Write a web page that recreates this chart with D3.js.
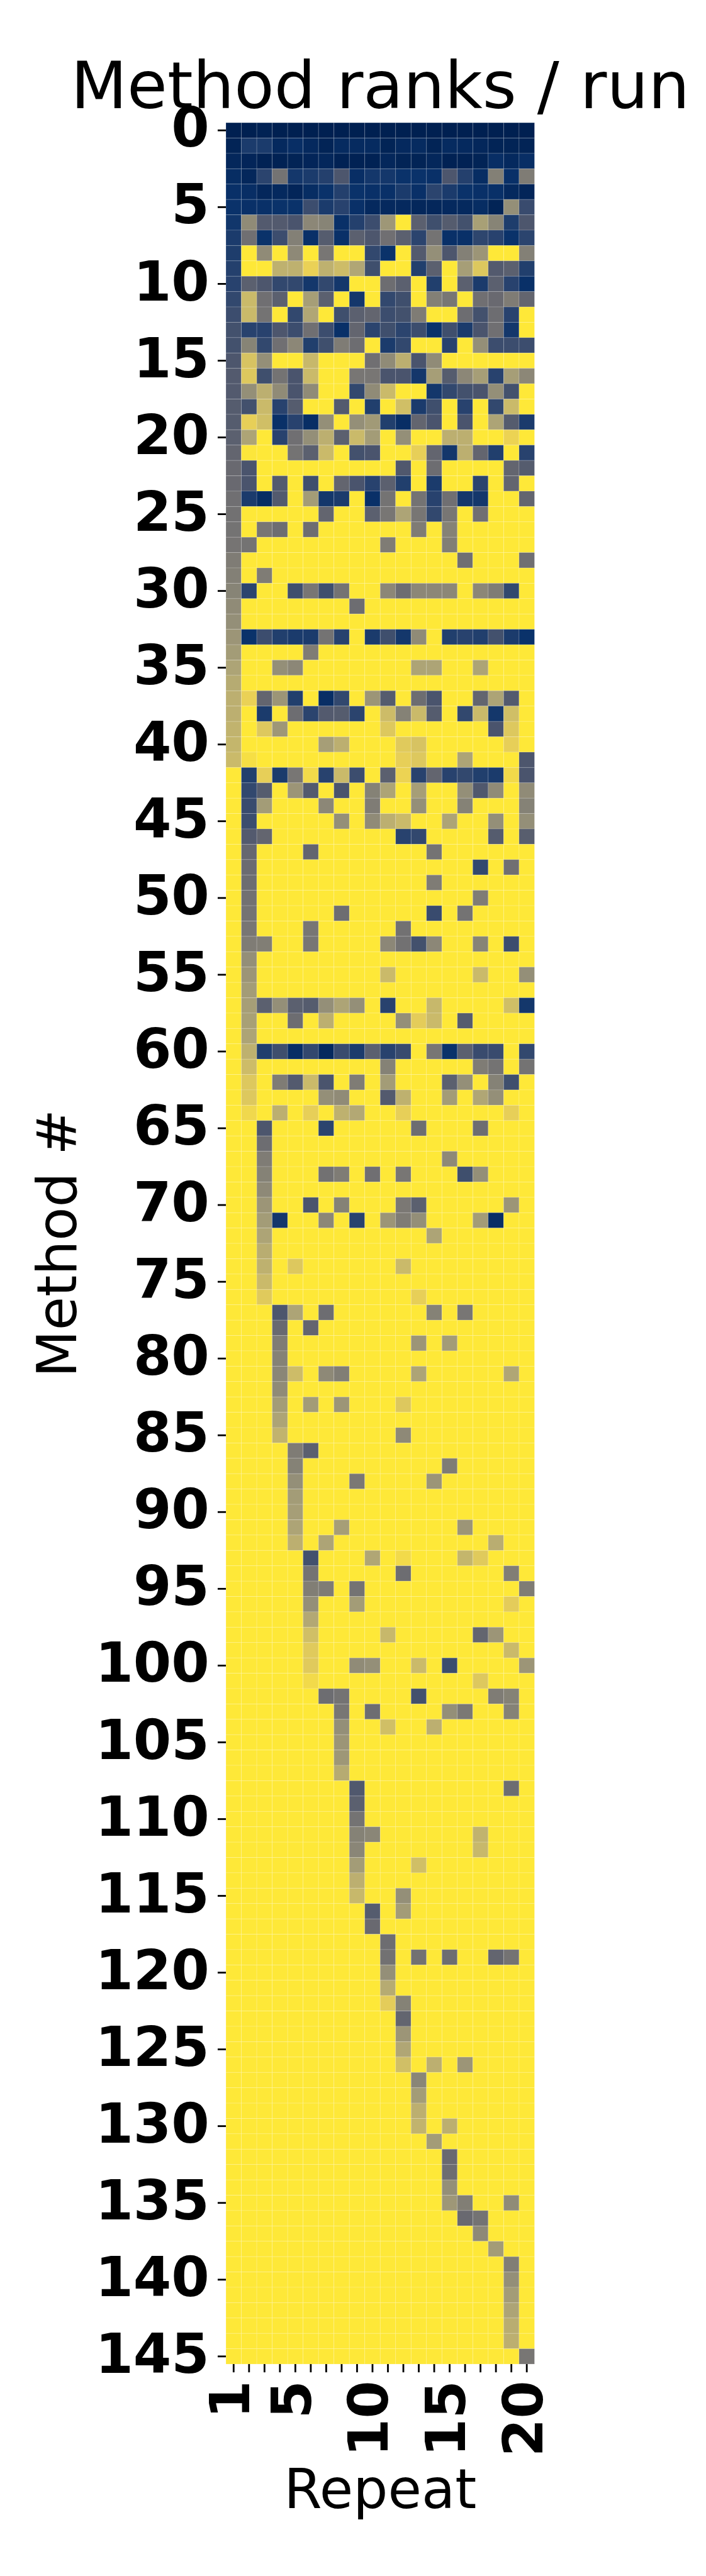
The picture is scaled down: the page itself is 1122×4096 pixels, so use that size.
<!DOCTYPE html>
<html>
<head>
<meta charset="utf-8">
<script src="https://cdn.jsdelivr.net/npm/d3@7"></script>
<style>
  html, body { margin: 0; padding: 0; background: #ffffff; }
  svg { display: block; }
</style>
</head>
<body>
<div id="chart"></div>
<script>
// ---------------- text ----------------
const chartTitle = "Method ranks / run";
const xAxisTitle = "Repeat";
const yAxisTitle = "Method #";

// ---------------- categories / ticks ----------------
const repeats = [1,2,3,4,5,6,7,8,9,10,11,12,13,14,15,16,17,18,19,20];
const xTickLabels = [1,5,10,15,20];
const yTickLabels = [0,5,10,15,20,25,30,35,40,45,50,55,60,65,70,75,80,85,90,95,100,105,110,115,120,125,130,135,140,145];

// ---------------- values (rank level per run, 0 = best, 10 = clipped/worst) ----------------
const ranksMethods0to41 = [
[0,0,0.1,0,0,0,0,0,0,0,0,0,0,0,0,0,0,0,0,0],
[0.2,1.5,1.5,0.5,0.8,0.5,0.2,0.6,0.6,0.6,0.2,0.5,0.6,0.2,0.6,0.5,0.4,0.2,0.2,0.2],
[0.4,0.3,0.1,0.1,0.2,0.3,0.4,0.1,0.1,0.1,0.4,0.2,0.2,0.4,0.1,0.1,0.2,0.8,0.5,0.8],
[0.7,0.4,2,4.5,1.3,1.5,1.8,3,0.8,1.3,1.3,1,1,0.9,3,1.8,0.7,5.2,0.9,5],
[0.9,0.8,0.4,0.5,0.3,0.7,1,1.8,1,0.9,0.9,1.5,0.9,2,1.5,1,0.9,0.9,0.5,0.3],
[1,0.9,0.9,1,1,2.5,1.5,1.9,0.9,0.5,0.5,0.5,0.4,0.4,0.5,0.5,0.7,0.2,6,2.4],
[1.2,5.8,3.2,3.2,2.9,5.6,5.4,0.9,1.8,2.5,6.4,10,3.5,2.6,3.3,2.7,6.8,5.4,1.6,3],
[1.5,4.3,1,2.5,5.2,0.9,3.3,0.9,3.5,3,4.3,3.5,2,4.5,0.9,0.9,2.1,1.9,1,2],
[1.6,10,5.8,10,5.7,10,4.7,10,10,2.2,1,10,3.2,6,3,5.2,6.3,10,10,5.2],
[1.8,10,10,7.6,7.6,9,7.6,8.1,7.1,2.6,10,10,1.7,3.5,10,6.7,8.6,3.2,3.5,1.7],
[1.9,3.5,3,2.2,2.2,1.3,2.2,1.3,10,10,4.2,3.5,10,1.7,10,3.5,1.5,3.5,1.9,0.9],
[2.2,8,4.3,3.5,10,6.7,3.5,10,1.3,10,2.2,2.6,10,5.2,4.7,10,4.3,4,5,3.8],
[2.5,8,4.5,10,2.2,7.1,10,2.6,3.5,3.8,2.5,2.7,5,10,10,4.2,2.7,4.2,1.9,10],
[2.7,1.9,1.9,3,2.5,4.3,2.5,0.9,3.8,2,2.6,2,2.5,1,2.6,1.5,2.9,4.3,1.3,10],
[2.7,5.4,2.2,4.3,5.6,1.7,2.6,5,4.2,10,1.5,2.2,10,10,1.9,10,6,2.5,2.5,2.5],
[3,8.4,6,10,10,7.9,10,10,10,4.3,5.8,7.5,2.9,5.8,10,10,10,10,10,10],
[3.2,8.6,2.6,4.5,2.9,8,10,10,4.7,4.7,2.9,2.9,1.3,6.7,3.3,5.6,6.7,1.9,6.7,5.6],
[3.2,6,7.5,5.8,2.9,5.8,10,10,2.2,5.8,8,10,10,1.3,2.2,2.7,2.9,6,2.7,10],
[3.3,2.7,8,1.9,3.3,10,10,3.2,10,1.7,10,8.2,1.5,2.6,10,1.9,10,2.2,8,10],
[3.3,8.9,8.2,0.9,1.9,0.8,6,10,6,6.5,1.7,0.8,3.8,2.9,10,2.9,10,7,3.3,1.5],
[3.5,7,10,1.9,4.3,6,7.5,3.5,8,6.6,10,6,10,10,7.5,7.5,10,10,9.1,10],
[3.8,9.9,10,10,4.5,3.5,8,10,2.7,2.9,10,10,8.9,3.8,1.3,7.5,3.8,1.7,10,1.9],
[4,2.9,10,10,10,10,10,10,10,10,10,3.1,10,4.2,10,10,10,10,3.8,3.3],
[4,2.9,10,3.2,10,2.6,10,3.8,2.9,1.9,3.5,1.7,10,1.5,10,10,2,10,3.8,10],
[4.3,1.5,0.7,3.2,10,6.6,1.3,1.5,10,0.9,4.5,10,4.5,1.9,4.3,1.3,1.3,10,10,3.8],
[4.4,10,10,10,10,10,3.8,10,10,3.5,4.7,7,4.7,2.2,4.7,10,4.3,10,10,10],
[4.5,10,4.7,4.2,10,4.2,10,10,10,10,10,10,5,10,5.3,10,10,10,10,10],
[4.6,4.5,10,10,10,10,10,10,10,10,5,10,10,10,5.1,10,10,10,10,10],
[5,10,10,10,10,10,10,10,10,10,10,10,10,10,10,4.3,10,10,10,4.3],
[5.2,10,5,10,10,10,10,10,10,10,10,10,10,10,10,10,10,10,10,10],
[5.4,2,10,10,2.6,4.7,2.6,4.5,10,10,5.6,4.2,5.6,5.6,5.6,10,5.6,5,2.2,10],
[5.8,10,10,10,10,10,10,10,4.2,10,10,10,10,10,10,10,10,10,10,10],
[6,10,10,10,10,10,10,10,10,10,10,10,10,10,10,10,10,10,10,10],
[6.3,1,2.5,1.7,1.5,1.5,4.5,1.9,10,1.5,2.6,1.3,5.8,10,1.7,1.9,1.7,2.7,1.5,1],
[6.6,10,10,10,10,5,10,10,10,10,10,10,10,10,10,10,10,10,10,10],
[7,10,10,6,5.6,10,10,10,10,10,10,10,7,7,10,10,7,10,10,10],
[7.3,10,10,10,10,10,10,10,10,10,10,10,10,10,10,10,10,10,10,10],
[7.5,9,3.8,6.3,1.7,10,0.8,2.2,10,6.3,3.3,10,4.2,2.9,10,10,3.8,7,3.2,10],
[7.5,10,1.5,10,4.2,2,3.2,3.3,2,10,8.1,5.3,8,3.3,10,2.2,8,1.3,8.2,10],
[7.7,10,8.6,6.4,10,10,10,10,10,10,8.6,10,10,10,10,10,10,2.9,8.6,10],
[7.8,10,10,10,10,10,6.7,7.5,10,10,10,8.7,8.4,10,10,10,10,10,8.9,10],
[8,9.6,10,10,10,10,10,10,10,10,10,8.9,8.6,10,10,7,10,10,10,3]
];

const ranksMethods42to76 = [
[10,1.7,8.9,1.5,4.7,9.4,1.9,8,2.5,10,3.5,9.1,1.9,3.8,1.9,2.2,1.7,1.5,9.4,2.9],
[10,2.2,3.3,10,6.3,3.2,10,2.9,10,5.3,7,10,6.7,10,10,6,3.1,5.8,10,5.8],
[10,2.4,6.6,10,10,10,5.6,10,10,5,10,10,6,10,10,5.3,10,10,10,5.3],
[10,2.5,10,10,10,10,10,6,10,5.8,7.5,8,10,10,7,10,10,6,10,6],
[10,3.2,3.8,10,10,10,10,10,10,10,10,1.9,2.2,10,10,10,10,3.3,10,3.4],
[10,3.9,10,10,10,3.8,10,10,10,10,10,10,10,4.5,10,10,10,10,10,10],
[10,4.1,10,10,10,10,10,10,10,10,10,10,10,10,10,10,2.2,10,4.3,10],
[10,4.2,10,10,10,10,10,10,10,10,10,10,10,5,10,10,10,10,10,10],
[10,4.4,10,10,10,10,10,10,10,10,10,10,10,10,10,10,5,10,10,10],
[10,4.5,10,10,10,10,10,4.2,10,10,10,10,10,2.4,10,4.5,10,10,10,10],
[10,4.7,10,10,10,4.7,10,10,10,10,10,4.4,10,10,10,10,10,10,10,10],
[10,5,5.1,10,10,4.7,10,10,10,10,5.6,4.4,2.7,5.6,10,10,5.4,10,2.5,10],
[10,6,10,10,10,10,10,10,10,10,10,10,10,10,10,10,10,10,10,10],
[10,6.3,10,10,10,10,10,10,10,10,8,10,10,10,10,10,8,10,10,6],
[10,6.6,10,10,10,10,10,10,10,10,10,10,10,10,10,10,10,10,10,10],
[10,6.7,3.5,6,3.5,3.3,6,7,6,10,1.9,10,10,7.9,10,10,10,10,8.2,1.3],
[10,6.8,10,10,4.2,10,7.5,10,10,10,10,6,8.8,8,10,3.3,10,10,10,10],
[10,7,10,10,10,10,10,10,10,10,10,10,10,10,10,10,10,10,10,10],
[10,7.6,1.7,2.6,0.8,2.2,0.5,2.4,1.5,3.5,1.9,2.4,10,4.7,1,3.5,2.4,2.4,10,2.2],
[10,8.1,10,10,10,10,10,10,10,10,5.3,10,10,10,10,10,5,4.5,10,4.5],
[10,8.6,10,5,3.2,8,2.9,10,5,10,6.6,10,10,10,3.5,6,10,5.3,2.6,10],
[10,8.6,10,10,10,10,6,5.8,10,10,3.2,7.6,10,10,6.6,10,7.1,6,10,10],
[10,9.3,10,7.5,10,8.9,10,7.6,7.2,10,10,8.9,10,10,10,10,10,10,8.9,10],
[10,10,3,10,10,10,2,10,10,10,10,10,4.2,10,10,10,4.2,10,10,10],
[10,10,4.2,10,10,10,10,10,10,10,10,10,10,10,10,10,10,10,10,10],
[10,10,5,10,10,10,10,10,10,10,10,10,10,10,5.7,10,10,10,10,10],
[10,10,5.3,10,10,10,4.4,5,10,4.3,10,4.7,10,10,10,2.6,6,10,10,10],
[10,10,5.7,10,10,10,10,10,10,10,10,10,10,10,10,10,10,10,10,10],
[10,10,6.3,10,10,2.9,10,5.3,10,10,10,4.8,3.5,10,10,10,10,10,6.3,10],
[10,10,6.6,1.3,10,10,5.6,10,1.9,10,6.3,5,6,10,10,10,6.6,0.8,10,10],
[10,10,7,10,10,10,10,10,10,10,10,10,10,7,10,10,10,10,10,10],
[10,10,7.4,10,10,10,10,10,10,10,10,10,10,10,10,10,10,10,10,10],
[10,10,7.6,10,8.6,10,10,10,10,10,10,8,10,10,10,10,10,10,10,10],
[10,10,8,10,10,10,10,10,10,10,10,10,10,10,10,10,10,10,10,10],
[10,10,8.7,10,10,10,10,10,10,10,10,10,8.9,10,10,10,10,10,10,10]
];

const ranksMethods77to110 = [
[10,10,10,3,7,10,4.2,10,10,10,10,10,10,5.3,10,4.7,10,10,10,10],
[10,10,10,4,10,3.8,10,10,10,10,10,10,10,10,10,10,10,10,10,10],
[10,10,10,5,10,10,10,10,10,10,10,10,6.3,10,6.6,10,10,10,10,10],
[10,10,10,5.3,10,10,10,10,10,10,10,10,10,10,10,10,10,10,10,10],
[10,10,10,5.5,8.1,10,5.7,5.1,10,10,10,10,7,10,10,10,10,10,7.1,10],
[10,10,10,5.8,10,10,10,10,10,10,10,10,10,10,10,10,10,10,10,10],
[10,10,10,6.6,10,6.6,10,6.3,10,10,10,8.6,10,10,10,10,10,10,10,10],
[10,10,10,7,10,10,10,10,10,10,10,10,10,10,10,10,10,10,10,10],
[10,10,10,7.7,10,10,10,10,10,10,10,5.7,10,10,10,10,10,10,10,10],
[10,10,10,10,5,3.5,10,10,10,10,10,10,10,10,10,10,10,10,10,10],
[10,10,10,10,5.3,10,10,10,10,10,10,10,10,10,5,10,10,10,10,10],
[10,10,10,10,6,10,10,10,4.8,10,10,10,10,6.3,10,10,10,10,10,10],
[10,10,10,10,6.6,10,10,10,10,10,10,10,10,10,10,10,10,10,10,10],
[10,10,10,10,6.7,10,10,10,10,10,10,10,10,10,10,10,10,10,10,10],
[10,10,10,10,7,10,10,6.7,10,10,10,10,10,10,10,6.3,10,10,10,10],
[10,10,10,10,7.5,10,7,10,10,10,10,10,10,10,10,10,10,7.4,10,10],
[10,10,10,10,10,2.7,10,10,10,7.1,10,9.4,10,10,10,7.8,8.7,10,10,10],
[10,10,10,10,10,4.5,10,10,10,10,10,4.2,10,10,10,10,10,10,5.1,10],
[10,10,10,10,10,5.1,5,10,4.5,10,10,10,10,10,10,10,10,10,10,5],
[10,10,10,10,10,6,10,10,6.6,10,10,10,10,10,10,10,10,10,8.8,10],
[10,10,10,10,10,7.2,10,10,10,10,10,10,10,10,10,10,10,10,10,10],
[10,10,10,10,10,8.2,10,10,10,10,7.9,10,10,10,10,10,3.8,6.3,10,10],
[10,10,10,10,10,8.7,10,10,10,10,10,10,10,10,10,10,10,10,8,10],
[10,10,10,10,10,8.7,10,10,5.8,6,10,10,8,10,2.5,10,10,10,10,6.3],
[10,10,10,10,10,9.4,10,10,10,10,10,10,10,10,10,10,8.6,10,10,10],
[10,10,10,10,10,10,4.2,4.5,10,10,10,10,2.7,10,10,10,10,5,5.3,10],
[10,10,10,10,10,10,10,4.7,10,4.2,10,10,10,10,6,4.8,10,10,5.3,10],
[10,10,10,10,10,10,10,6,10,10,8.2,10,10,7.5,10,10,10,10,10,10],
[10,10,10,10,10,10,10,6.3,10,10,10,10,10,10,10,10,10,10,10,10],
[10,10,10,10,10,10,10,6.4,10,10,10,10,10,10,10,10,10,10,10,10],
[10,10,10,10,10,10,10,7.3,10,10,10,10,10,10,10,10,10,10,10,10],
[10,10,10,10,10,10,10,10,3.1,10,10,10,10,10,10,10,10,10,4.2,10],
[10,10,10,10,10,10,10,10,3.5,10,10,10,10,10,10,10,10,10,10,10],
[10,10,10,10,10,10,10,10,4.5,10,10,10,10,10,10,10,10,10,10,10]
];

const ranksMethods111to145 = [
[10,10,10,10,10,10,10,10,5.3,5.5,10,10,10,10,10,10,7.7,10,10,10],
[10,10,10,10,10,10,10,10,5.5,10,10,10,10,10,10,10,7.9,10,10,10],
[10,10,10,10,10,10,10,10,6.6,10,10,10,8.2,10,10,10,10,10,10,10],
[10,10,10,10,10,10,10,10,7.5,10,10,10,10,10,10,10,10,10,10,10],
[10,10,10,10,10,10,10,10,7.9,10,10,6,10,10,10,10,10,10,10,10],
[10,10,10,10,10,10,10,10,10,3.3,10,6.6,10,10,10,10,10,10,10,10],
[10,10,10,10,10,10,10,10,10,4,10,10,10,10,10,10,10,10,10,10],
[10,10,10,10,10,10,10,10,10,10,4.2,10,10,10,10,10,10,10,10,10],
[10,10,10,10,10,10,10,10,10,10,4.4,10,4.4,10,4.2,10,10,3.8,4.5,10],
[10,10,10,10,10,10,10,10,10,10,6,10,10,10,10,10,10,10,10,10],
[10,10,10,10,10,10,10,10,10,10,7.3,10,10,10,10,10,10,10,10,10],
[10,10,10,10,10,10,10,10,10,10,8.8,5.3,10,10,10,10,10,10,10,10],
[10,10,10,10,10,10,10,10,10,10,10,3.8,10,10,10,10,10,10,10,10],
[10,10,10,10,10,10,10,10,10,10,10,6.3,10,10,10,10,10,10,10,10],
[10,10,10,10,10,10,10,10,10,10,10,7.1,10,10,10,10,10,10,10,10],
[10,10,10,10,10,10,10,10,10,10,10,8.2,10,7.5,10,6.3,10,10,10,10],
[10,10,10,10,10,10,10,10,10,10,10,10,5.5,10,10,10,10,10,10,10],
[10,10,10,10,10,10,10,10,10,10,10,10,6.6,10,10,10,10,10,10,10],
[10,10,10,10,10,10,10,10,10,10,10,10,7.5,10,10,10,10,10,10,10],
[10,10,10,10,10,10,10,10,10,10,10,10,7.7,10,7.5,10,10,10,10,10],
[10,10,10,10,10,10,10,10,10,10,10,10,10,6.6,10,10,10,10,10,10],
[10,10,10,10,10,10,10,10,10,10,10,10,10,10,4,10,10,10,10,10],
[10,10,10,10,10,10,10,10,10,10,10,10,10,10,4.2,10,10,10,10,10],
[10,10,10,10,10,10,10,10,10,10,10,10,10,10,6,10,10,10,10,10],
[10,10,10,10,10,10,10,10,10,10,10,10,10,10,6.4,5.1,10,10,5.8,10],
[10,10,10,10,10,10,10,10,10,10,10,10,10,10,10,4,4.5,10,10,10],
[10,10,10,10,10,10,10,10,10,10,10,10,10,10,10,10,5.7,10,10,10],
[10,10,10,10,10,10,10,10,10,10,10,10,10,10,10,10,10,6.6,10,10],
[10,10,10,10,10,10,10,10,10,10,10,10,10,10,10,10,10,10,5.1,10],
[10,10,10,10,10,10,10,10,10,10,10,10,10,10,10,10,10,10,6,10],
[10,10,10,10,10,10,10,10,10,10,10,10,10,10,10,10,10,10,6.6,10],
[10,10,10,10,10,10,10,10,10,10,10,10,10,10,10,10,10,10,7,10],
[10,10,10,10,10,10,10,10,10,10,10,10,10,10,10,10,10,10,7.4,10],
[10,10,10,10,10,10,10,10,10,10,10,10,10,10,10,10,10,10,7.5,10],
[10,10,10,10,10,10,10,10,10,10,10,10,10,10,10,10,10,10,10,4.7]
];

// ---------------- build ----------------
const rankRows = [].concat(ranksMethods0to41, ranksMethods42to76, ranksMethods77to110, ranksMethods111to145);
const methods = rankRows.map((row, i) => i);
const cells = rankRows.flatMap((row, i) => row.map((v, j) => ({ method: methods[i], repeat: repeats[j], value: v })));

// reference geometry (drawn in reference pixels, scaled to the window by the viewBox)
const refW = 1200, refH = 4380;
const plotLeft = 384, plotRight = 908.5, plotTop = 208.3, plotBottom = 4020;

const svg = d3.select("#chart").append("svg")
  .attr("width", 1122).attr("height", 4096)
  .attr("viewBox", `0 0 ${refW} ${refH}`)
  .attr("font-family", "'DejaVu Sans', sans-serif");

svg.append("rect").attr("width", refW).attr("height", refH).attr("fill", "#ffffff");

const x = d3.scaleBand().domain(repeats).range([plotLeft, plotRight]).padding(0);
const y = d3.scaleBand().domain(methods).range([plotTop, plotBottom]).padding(0);

// cividis colour scale, top end = matplotlib cividis yellow
const stopLevels = [0,1,2,3,4,5,6,7,8,9,10];
const stopColors = stopLevels.map(l => l < 10 ? d3.interpolateCividis(l / 10) : "#fee838");
const color = d3.scaleLinear().domain(stopLevels).range(stopColors).interpolate(d3.interpolateRgb).clamp(true);

svg.append("g").attr("class", "cells")
  .selectAll("rect")
  .data(cells)
  .join("rect")
  .attr("x", d => x(d.repeat))
  .attr("y", d => y(d.method))
  .attr("width", x.bandwidth())
  .attr("height", y.bandwidth())
  .attr("fill", d => color(d.value))
  .attr("stroke", "#ffffff")
  .attr("stroke-opacity", 0.18)
  .attr("stroke-width", 1);

// y axis
const gY = svg.append("g")
  .attr("transform", `translate(${plotLeft},0)`)
  .call(d3.axisLeft(y).tickValues(yTickLabels).tickSize(14).tickPadding(14));
gY.attr("font-family", "'DejaVu Sans', sans-serif").attr("font-size", 93);
gY.select(".domain").remove();
gY.selectAll(".tick line").attr("stroke", "#000").attr("stroke-width", 3);
gY.selectAll(".tick text")
  .attr("fill", "#000")
  .attr("font-weight", "bold")
  .attr("dy", "0.3em");

// x axis
const gX = svg.append("g")
  .attr("transform", `translate(0,${plotBottom})`)
  .call(d3.axisBottom(x).tickSize(14).tickPadding(14)
    .tickFormat(d => xTickLabels.includes(d) ? String(d) : ""));
gX.attr("font-family", "'DejaVu Sans', sans-serif").attr("font-size", 93);
gX.select(".domain").remove();
gX.selectAll(".tick line").attr("stroke", "#000").attr("stroke-width", 3);
gX.selectAll(".tick text")
  .attr("fill", "#000")
  .attr("font-weight", "bold")
  .attr("x", 0).attr("y", 0).attr("dy", null)
  .attr("text-anchor", "end")
  .attr("transform", "translate(26.2,28) rotate(-90)");

// title
svg.append("text")
  .attr("x", (plotLeft + plotRight) / 2)
  .attr("y", 183.3)
  .attr("text-anchor", "middle")
  .attr("font-size", 111)
  .attr("fill", "#000")
  .text(chartTitle);

// axis titles
svg.append("text")
  .attr("x", (plotLeft + plotRight) / 2)
  .attr("y", 4265)
  .attr("text-anchor", "middle")
  .attr("font-size", 93)
  .attr("fill", "#000")
  .text(xAxisTitle);

svg.append("text")
  .attr("transform", `translate(129.3,${(plotTop + plotBottom) / 2}) rotate(-90)`)
  .attr("text-anchor", "middle")
  .attr("font-size", 93)
  .attr("fill", "#000")
  .text(yAxisTitle);
</script>
</body>
</html>
